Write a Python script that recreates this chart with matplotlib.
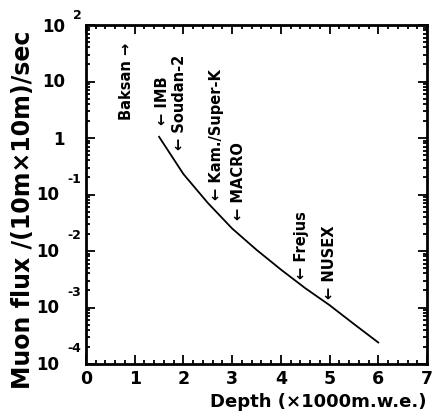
import matplotlib
matplotlib.use("Agg")
import matplotlib.pyplot as plt
from matplotlib.ticker import MultipleLocator, LogLocator, NullFormatter
import numpy as np

plt.rcParams['font.family'] = ['DejaVu Sans']
plt.rcParams['font.weight'] = 'bold'

# Muon flux versus depth (km water equivalent)
depth = [1.5, 2.0, 2.5, 3.0, 3.5, 4.0, 4.5, 5.0, 5.5, 6.0]
flux = [1.05, 0.23, 0.071, 0.025, 0.0105, 0.0047, 0.0022, 0.0011, 0.00051, 0.00024]

# Underground laboratories: label, depth position, bottom of label
labs = ["Baksan \u2192", "\u2190 IMB", "\u2190 Soudan-2", "\u2190 Kam./Super-K",
        "\u2190 MACRO", "\u2190 Frejus", "\u2190 NUSEX"]
lab_depth = [0.84, 1.58, 1.91, 2.68, 3.14, 4.43, 4.99]
lab_flux = [2.05, 1.68, 0.61, 0.079, 0.035, 0.0032, 0.0014]

x_ticks = [0, 1, 2, 3, 4, 5, 6, 7]
y_decades = [2, 1, 0, -1, -2, -3, -4]

fig = plt.figure(figsize=(4.32, 4.16), dpi=100)
ax = fig.add_axes([86 / 432, 1 - 364 / 416, 341 / 432, 339 / 416])

ax.plot(depth, flux, color='black', lw=1.3)
ax.set_yscale('log')
ax.set_xlim(0, 7)
ax.set_ylim(1e-4, 1e2)

for s in ax.spines.values():
    s.set_linewidth(2.0)

ax.set_xticks(x_ticks)
ax.xaxis.set_minor_locator(MultipleLocator(0.2))
ax.yaxis.set_major_locator(LogLocator(base=10, numticks=20))
ax.yaxis.set_minor_locator(LogLocator(base=10, subs=np.arange(2, 10), numticks=20))
ax.yaxis.set_minor_formatter(NullFormatter())
ax.tick_params(which='both', direction='in', top=True, right=True, width=1.3)
ax.tick_params(which='major', length=6.5)
ax.tick_params(which='minor', length=3.2)
ax.tick_params(axis='x', labelsize=12.5, pad=4)
ax.tick_params(axis='y', labelleft=False)
for lbl in ax.get_xticklabels():
    lbl.set_fontweight('bold')

# Power-of-ten labels on the flux axis, drawn as base plus raised exponent
for e in y_decades:
    v = 10.0 ** e
    if e == 0:
        ax.annotate("1", xy=(0, v), xycoords=('axes fraction', 'data'),
                    xytext=(-15, -1.5), textcoords='offset points',
                    ha='right', va='center', fontsize=12, fontweight='bold')
    elif e == 1:
        ax.annotate("10", xy=(0, v), xycoords=('axes fraction', 'data'),
                    xytext=(-15, -0.5), textcoords='offset points',
                    ha='right', va='center', fontsize=12, fontweight='bold')
    elif e == 2:
        ax.annotate("10", xy=(0, v), xycoords=('axes fraction', 'data'),
                    xytext=(-15, -1.2), textcoords='offset points',
                    ha='right', va='center', fontsize=12, fontweight='bold')
        ax.annotate(str(e), xy=(0, v), xycoords=('axes fraction', 'data'),
                    xytext=(-3, 7), textcoords='offset points',
                    ha='right', va='center', fontsize=9, fontweight='bold')
    else:
        ax.annotate("10", xy=(0, v), xycoords=('axes fraction', 'data'),
                    xytext=(-19.5, -0.7), textcoords='offset points',
                    ha='right', va='center', fontsize=12, fontweight='bold')
        ax.annotate(str(e), xy=(0, v), xycoords=('axes fraction', 'data'),
                    xytext=(-3.5, 11), textcoords='offset points',
                    ha='right', va='center', fontsize=9, fontweight='bold')

ax.set_xlabel("Depth (\u00d71000m.w.e.)", fontsize=13, fontweight='bold',
              loc='right', labelpad=4)
ax.set_ylabel("Muon flux /(10m\u00d710m)/sec", fontsize=17, fontweight='bold',
              ha='center', va='center')
ax.yaxis.set_label_coords(-0.185, 0.454)

for name, xd, yb in zip(labs, lab_depth, lab_flux):
    ax.text(xd, yb, name, rotation=90, ha='center', va='bottom',
            fontsize=10.5, fontweight='bold')

fig.savefig("out.png", dpi=100, facecolor='white')
